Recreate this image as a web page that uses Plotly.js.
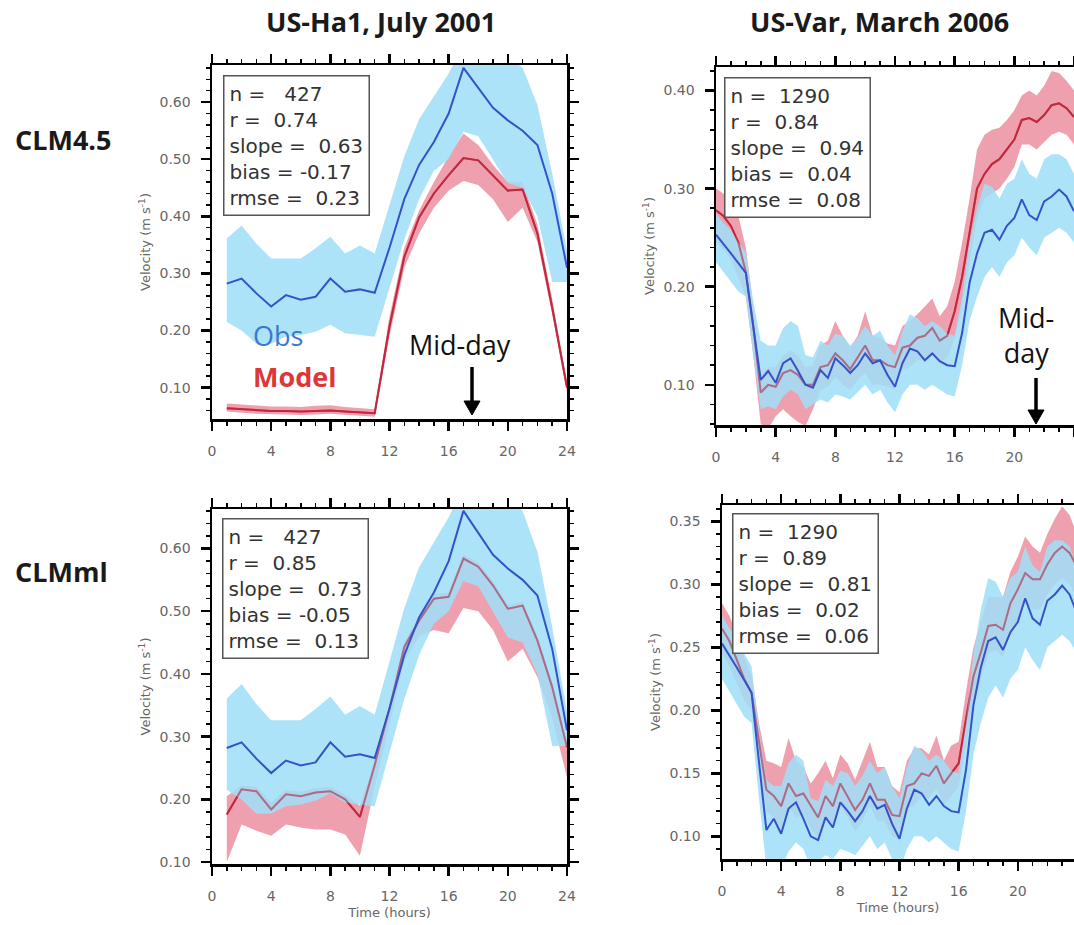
<!DOCTYPE html>
<html>
<head>
<meta charset="utf-8">
<script src="https://cdn.plot.ly/plotly-3.0.1.min.js"></script>
<style>html,body{margin:0;padding:0;background:#fff;}#chart{width:1074px;height:925px;}</style>
</head>
<body>
<div id="chart"></div>
<script>
// ---------- DATA ----------
const hoursHa1 = [1,2,3,4,5,6,7,8,9,10,11,12,13,14,15,16,17,18,19,20,21,22,23,24];
const hoursVar = [0,0.5,1,1.5,2,2.5,3,3.5,4,4.5,5,5.5,6,6.5,7,7.5,8,8.5,9,9.5,10,10.5,11,11.5,12,12.5,13,13.5,14,14.5,15,15.5,16,16.5,17,17.5,18,18.5,19,19.5,20,20.5,21,21.5,22,22.5,23,23.5,24];
const xTickVals = [0,4,8,12,16,20,24];

// US-Ha1 observations (mean and spread)
const obsHa1   = [0.282,0.291,0.265,0.242,0.262,0.254,0.259,0.291,0.268,0.272,0.266,0.345,0.430,0.490,0.530,0.580,0.660,0.625,0.590,0.568,0.550,0.525,0.440,0.310];
const obsHa1Hi = [0.361,0.384,0.352,0.326,0.326,0.326,0.344,0.364,0.335,0.349,0.335,0.420,0.505,0.570,0.610,0.650,0.700,0.700,0.690,0.680,0.660,0.595,0.475,0.340];
const obsHa1Lo = [0.215,0.200,0.177,0.177,0.189,0.192,0.198,0.210,0.195,0.192,0.189,0.275,0.360,0.430,0.480,0.500,0.548,0.540,0.500,0.458,0.450,0.400,0.285,0.285];

// US-Ha1 CLM4.5
const clm45Ha1   = [0.064,0.062,0.060,0.059,0.059,0.058,0.059,0.060,0.058,0.057,0.055,0.207,0.329,0.398,0.440,0.472,0.502,0.498,0.472,0.445,0.447,0.370,0.240,0.100];
const clm45Ha1Hi = [0.072,0.070,0.068,0.067,0.067,0.066,0.068,0.069,0.066,0.064,0.062,0.225,0.345,0.410,0.460,0.505,0.545,0.525,0.490,0.460,0.460,0.385,0.255,0.110];
const clm45Ha1Lo = [0.058,0.056,0.054,0.053,0.053,0.052,0.053,0.054,0.052,0.051,0.049,0.190,0.310,0.370,0.415,0.445,0.462,0.455,0.430,0.390,0.415,0.355,0.228,0.092];

// US-Ha1 CLMml
const clmmlHa1   = [0.176,0.216,0.213,0.184,0.208,0.205,0.211,0.213,0.200,0.172,0.255,0.345,0.443,0.485,0.520,0.523,0.584,0.571,0.541,0.504,0.509,0.453,0.379,0.283];
const clmmlHa1Hi = [0.205,0.222,0.220,0.195,0.215,0.212,0.218,0.220,0.208,0.190,0.262,0.352,0.450,0.492,0.528,0.530,0.590,0.578,0.548,0.510,0.515,0.460,0.386,0.290];
const clmmlHa1Lo = [0.100,0.160,0.150,0.142,0.160,0.155,0.152,0.152,0.144,0.110,0.220,0.320,0.420,0.460,0.470,0.465,0.505,0.500,0.470,0.420,0.440,0.395,0.330,0.235];

// US-Var observations
const obsVar   = [0.253,0.244,0.234,0.224,0.214,0.159,0.105,0.114,0.102,0.122,0.127,0.114,0.100,0.097,0.115,0.107,0.127,0.120,0.112,0.120,0.132,0.122,0.125,0.110,0.098,0.122,0.137,0.134,0.125,0.132,0.124,0.120,0.119,0.153,0.204,0.234,0.255,0.258,0.248,0.262,0.270,0.289,0.273,0.268,0.287,0.292,0.299,0.292,0.277];
const obsVarHi = [0.275,0.265,0.258,0.245,0.235,0.185,0.145,0.140,0.140,0.158,0.165,0.160,0.130,0.128,0.145,0.140,0.152,0.150,0.140,0.148,0.160,0.150,0.155,0.140,0.130,0.155,0.172,0.168,0.160,0.165,0.160,0.152,0.150,0.190,0.245,0.280,0.305,0.302,0.290,0.305,0.310,0.330,0.315,0.310,0.330,0.335,0.335,0.330,0.315];
const obsVarLo = [0.225,0.215,0.205,0.195,0.190,0.130,0.075,0.078,0.075,0.088,0.095,0.090,0.075,0.080,0.085,0.082,0.090,0.088,0.085,0.092,0.100,0.090,0.095,0.082,0.072,0.090,0.100,0.100,0.095,0.100,0.095,0.090,0.088,0.120,0.165,0.190,0.210,0.220,0.210,0.225,0.232,0.250,0.240,0.232,0.250,0.255,0.260,0.255,0.245];

// US-Var CLM4.5
const clm45Var   = [0.278,0.272,0.262,0.245,0.215,0.160,0.092,0.100,0.098,0.112,0.115,0.110,0.100,0.100,0.118,0.120,0.132,0.125,0.116,0.128,0.140,0.125,0.125,0.120,0.118,0.138,0.140,0.148,0.150,0.158,0.145,0.150,0.175,0.210,0.255,0.300,0.315,0.325,0.330,0.340,0.350,0.370,0.372,0.368,0.375,0.385,0.387,0.382,0.373];
const clm45VarHi = [0.300,0.295,0.290,0.272,0.240,0.180,0.110,0.118,0.118,0.130,0.135,0.130,0.118,0.120,0.140,0.145,0.165,0.150,0.138,0.150,0.175,0.150,0.148,0.142,0.140,0.160,0.165,0.172,0.180,0.188,0.170,0.180,0.205,0.245,0.290,0.340,0.355,0.360,0.362,0.370,0.380,0.395,0.400,0.395,0.405,0.420,0.418,0.410,0.400];
const clm45VarLo = [0.245,0.238,0.228,0.210,0.190,0.130,0.060,0.055,0.068,0.075,0.068,0.062,0.058,0.075,0.095,0.098,0.108,0.100,0.095,0.105,0.112,0.100,0.100,0.098,0.095,0.115,0.118,0.125,0.125,0.130,0.122,0.128,0.148,0.180,0.225,0.270,0.290,0.295,0.300,0.310,0.322,0.345,0.345,0.340,0.348,0.355,0.358,0.355,0.345];

// US-Var CLMml
const clmmlVar   = [0.265,0.255,0.240,0.225,0.214,0.174,0.137,0.132,0.124,0.142,0.132,0.134,0.124,0.115,0.132,0.124,0.142,0.132,0.121,0.129,0.142,0.129,0.129,0.117,0.116,0.140,0.142,0.150,0.148,0.156,0.142,0.150,0.158,0.193,0.227,0.246,0.267,0.268,0.264,0.285,0.296,0.309,0.304,0.304,0.316,0.325,0.330,0.325,0.314];
const clmmlVarHi = [0.285,0.275,0.260,0.242,0.228,0.190,0.160,0.158,0.155,0.178,0.160,0.155,0.142,0.150,0.160,0.146,0.165,0.158,0.145,0.160,0.175,0.155,0.155,0.140,0.135,0.160,0.170,0.170,0.165,0.180,0.160,0.172,0.175,0.215,0.250,0.270,0.290,0.290,0.290,0.310,0.322,0.338,0.330,0.325,0.340,0.352,0.362,0.355,0.340];
const clmmlVarLo = [0.245,0.235,0.222,0.208,0.200,0.158,0.120,0.115,0.106,0.124,0.115,0.117,0.106,0.098,0.114,0.106,0.124,0.115,0.104,0.112,0.124,0.112,0.112,0.100,0.098,0.122,0.124,0.132,0.130,0.138,0.125,0.132,0.140,0.172,0.205,0.225,0.245,0.248,0.242,0.262,0.272,0.285,0.280,0.280,0.292,0.300,0.305,0.300,0.290];

// statistics boxes (panel order: Ha1-CLM4.5, Var-CLM4.5, Ha1-CLMml, Var-CLMml)
const statN     = [427, 1290, 427, 1290];
const statR     = [0.74, 0.84, 0.85, 0.89];
const statSlope = [0.63, 0.94, 0.73, 0.81];
const statBias  = [-0.17, 0.04, -0.05, 0.02];
const statRmse  = [0.23, 0.08, 0.13, 0.06];

const colTitles = ['US-Ha1, July 2001', 'US-Var, March 2006'];
const rowTitles = ['CLM4.5', 'CLMml'];
const yTitle = 'Velocity (m s<sup>-1</sup>)';
const xTitle = 'Time (hours)';

// ---------- STYLE ----------
const OBS_LINE = '#3552c8';
const OBS_FILL = 'rgba(160,222,247,0.86)';
const MOD_LINE = '#d62f3c';
const MOD_LINE_OVER = 'rgba(176,32,64,0.55)';
const MOD_FILL = 'rgba(232,120,140,0.70)';
const TICKFONT = {family: 'DejaVu Sans, Liberation Sans, Arial', size: 14, color: '#666'};
const AXFONT = {family: 'DejaVu Sans, Liberation Sans, Arial', size: 13, color: '#666'};

function band(x, lo, hi, xa, ya, color) {
  return {
    x: x.concat(x.slice().reverse()),
    y: hi.concat(lo.slice().reverse()),
    xaxis: xa, yaxis: ya, type: 'scatter', mode: 'lines',
    fill: 'toself', fillcolor: color, line: {width: 0}, hoverinfo: 'skip', showlegend: false
  };
}
function line(x, y, xa, ya, color, w) {
  return {x: x, y: y, xaxis: xa, yaxis: ya, type: 'scatter', mode: 'lines',
          line: {color: color, width: w || 2}, showlegend: false, hoverinfo: 'skip'};
}
function panel(x, mod, modLo, modHi, obs, obsLo, obsHi, xa, ya) {
  return [
    band(x, modLo, modHi, xa, ya, MOD_FILL),
    line(x, mod, xa, ya, MOD_LINE, 2),
    band(x, obsLo, obsHi, xa, ya, OBS_FILL),
    line(x, mod, xa, ya, MOD_LINE_OVER, 2),
    line(x, obs, xa, ya, OBS_LINE, 2)
  ];
}

const data = [].concat(
  panel(hoursHa1, clm45Ha1, clm45Ha1Lo, clm45Ha1Hi, obsHa1, obsHa1Lo, obsHa1Hi, 'x', 'y'),
  panel(hoursVar, clm45Var, clm45VarLo, clm45VarHi, obsVar, obsVarLo, obsVarHi, 'x2', 'y2'),
  panel(hoursHa1, clmmlHa1, clmmlHa1Lo, clmmlHa1Hi, obsHa1, obsHa1Lo, obsHa1Hi, 'x3', 'y3'),
  panel(hoursVar, clmmlVar, clmmlVarLo, clmmlVarHi, obsVar, obsVarLo, obsVarHi, 'x4', 'y4')
);

const W = 1074, H = 925;
const px = v => v / W;
const py = v => 1 - v / H;

function xAxis(domain, anchor, range, title) {
  const ax = {
    domain: domain, anchor: anchor, range: range,
    tickmode: 'array', tickvals: xTickVals, ticktext: xTickVals.map(String),
    ticks: 'outside', ticklen: 9, tickwidth: 2.5, tickcolor: '#000',
    minor: {dtick: 1, tick0: 0, ticks: 'outside', ticklen: 4, tickwidth: 1.5, tickcolor: '#000', showgrid: false},
    showline: true, linewidth: 2.5, linecolor: '#000', mirror: 'allticks',
    showgrid: false, zeroline: false, tickfont: TICKFONT, ticklabelstandoff: 9, fixedrange: true
  };
  if (title) ax.title = {text: title, font: AXFONT, standoff: 5};
  return ax;
}
function yAxis(domain, anchor, range, dtick, mirror) {
  return {
    domain: domain, anchor: anchor, range: range,
    tickmode: 'linear', tick0: 0, dtick: dtick, tickformat: '.2f',
    ticks: 'outside', ticklen: 9, tickwidth: 2.5, tickcolor: '#000',
    minor: {dtick: dtick / 5, ticks: 'outside', ticklen: 4, tickwidth: 1.5, tickcolor: '#000', showgrid: false},
    showline: true, linewidth: 2.5, linecolor: '#000', mirror: mirror,
    showgrid: false, zeroline: false, tickfont: TICKFONT, ticklabelstandoff: 7, fixedrange: true,
    title: {text: yTitle, font: AXFONT, standoff: 6}
  };
}

function pad5(v, dec) {
  const s = dec ? v.toFixed(dec) : String(v);
  return (' '.repeat(Math.max(0, 5 - s.length)) + s);
}
function statsText(i) {
  const lines = [
    'n = ' + pad5(statN[i], 0),
    'r = ' + pad5(statR[i], 2),
    'slope = ' + pad5(statSlope[i], 2),
    'bias = ' + pad5(statBias[i], 2),
    'rmse = ' + pad5(statRmse[i], 2)
  ];
  return lines.map(l => l.replace(/ /g, '\u00a0')).join('<br>');
}

const statsPos = [[223, 75], [724, 77], [222, 518], [732, 513]];
const annotations = [];
statsPos.forEach((p, i) => {
  annotations.push({
    xref: 'paper', yref: 'paper', x: px(p[0]), y: py(p[1]), xanchor: 'left', yanchor: 'top',
    text: statsText(i), showarrow: false, align: 'left',
    font: {family: 'DejaVu Sans, Liberation Sans, Arial', size: 20, color: '#333'},
    bgcolor: '#ffffff', bordercolor: '#555', borderwidth: 1.5, borderpad: 5
  });
});

// column and row titles
const titleFont = {family: 'Open Sans, Noto Sans, Arial', size: 27, color: '#1a1a1a'};
annotations.push({xref: 'paper', yref: 'paper', x: px(381), y: py(22), xanchor: 'center', yanchor: 'middle',
  text: '<b>' + colTitles[0] + '</b>', showarrow: false, font: titleFont});
annotations.push({xref: 'paper', yref: 'paper', x: px(879), y: py(22), xanchor: 'center', yanchor: 'middle',
  text: '<b>' + colTitles[1] + '</b>', showarrow: false, font: titleFont});
annotations.push({xref: 'paper', yref: 'paper', x: px(13), y: py(139), xanchor: 'left', yanchor: 'middle',
  text: '<b>' + rowTitles[0] + '</b>', showarrow: false, font: titleFont});
annotations.push({xref: 'paper', yref: 'paper', x: px(13), y: py(571), xanchor: 'left', yanchor: 'middle',
  text: '<b>' + rowTitles[1] + '</b>', showarrow: false, font: titleFont});

// Obs / Model labels and Mid-day markers
annotations.push({xref: 'paper', yref: 'paper', x: px(251), y: py(335), xanchor: 'left', yanchor: 'middle',
  text: 'Obs', showarrow: false, font: {family: 'Open Sans, Noto Sans, Arial', size: 27, color: '#3b78cf'}});
annotations.push({xref: 'paper', yref: 'paper', x: px(251), y: py(376), xanchor: 'left', yanchor: 'middle',
  text: '<b>Model</b>', showarrow: false, font: {family: 'Open Sans, Noto Sans, Arial', size: 27, color: '#dd3737'}});
const midFont = {family: 'Open Sans, Noto Sans, Arial', size: 27, color: '#111'};
annotations.push({xref: 'paper', yref: 'paper', x: px(460), y: py(345), xanchor: 'center', yanchor: 'middle',
  text: 'Mid-day', showarrow: false, font: midFont});
annotations.push({xref: 'paper', yref: 'paper', x: px(1026), y: py(335), xanchor: 'center', yanchor: 'middle',
  text: 'Mid-<br>day', showarrow: false, font: midFont});

// arrows as shapes (shaft + triangular head)
function arrowShapes(x, yTop, yTip) {
  const headH = 14, headW = 8;
  return [
    {type: 'line', xref: 'paper', yref: 'paper', x0: px(x), x1: px(x), y0: py(yTop), y1: py(yTip - headH + 2),
     line: {color: '#000', width: 3.5}},
    {type: 'path', xref: 'paper', yref: 'paper',
     path: 'M ' + px(x - headW) + ',' + py(yTip - headH) + ' L ' + px(x + headW) + ',' + py(yTip - headH) +
           ' L ' + px(x) + ',' + py(yTip) + ' Z',
     fillcolor: '#000', line: {color: '#000', width: 1}}
  ];
}
const shapes = [].concat(arrowShapes(472, 367, 415), arrowShapes(1036, 378, 424));

const layout = {
  width: W, height: H, margin: {l: 0, r: 0, t: 0, b: 0},
  paper_bgcolor: '#fff', plot_bgcolor: '#fff', showlegend: false, hovermode: false,
  xaxis:  xAxis([px(212), px(567)], 'y',  [0, 24]),
  yaxis:  yAxis([py(419), py(65)],  'x',  [0.045, 0.665], 0.1, 'allticks'),
  xaxis2: xAxis([px(716), 1],       'y2', [0, 24]),
  yaxis2: yAxis([py(425), py(67)],  'x2', [0.059, 0.424], 0.1, false),
  xaxis3: xAxis([px(212), px(567)], 'y3', [0, 24], xTitle),
  yaxis3: yAxis([py(864), py(509)], 'x3', [0.097, 0.663], 0.1, 'allticks'),
  xaxis4: xAxis([px(722), 1],       'y4', [0, 23.8], xTitle),
  yaxis4: yAxis([py(859), py(505)], 'x4', [0.082, 0.363], 0.05, false),
  annotations: annotations,
  shapes: shapes
};

Plotly.newPlot('chart', data, layout, {staticPlot: true, displayModeBar: false});
</script>
</body>
</html>
